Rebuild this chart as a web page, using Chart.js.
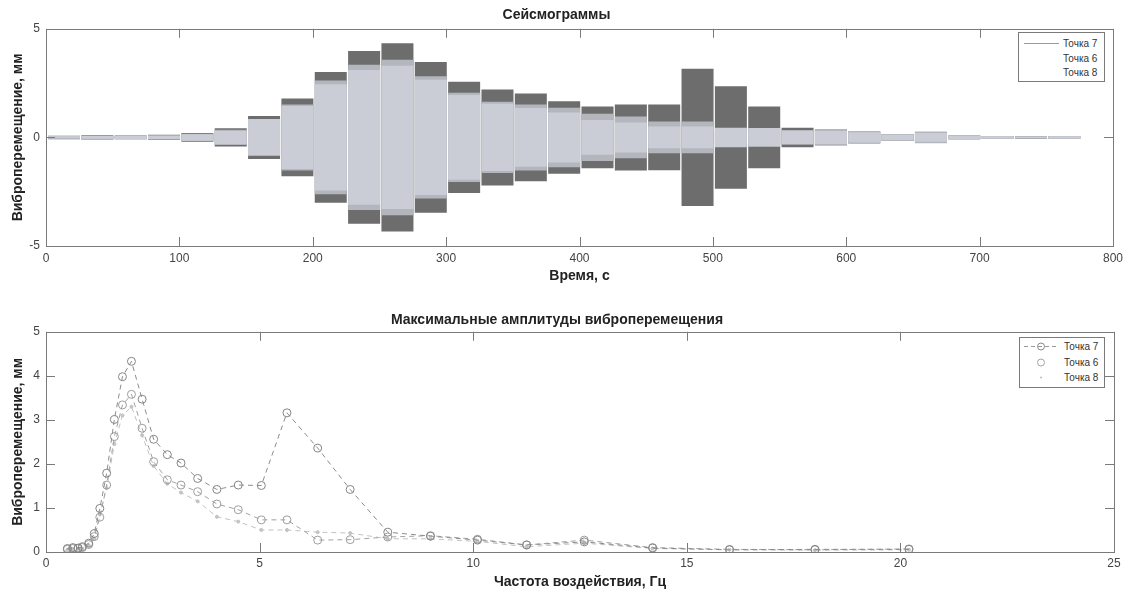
<!DOCTYPE html>
<html lang="ru">
<head>
<meta charset="utf-8">
<title>Сейсмограммы</title>
<script src="https://cdn.jsdelivr.net/npm/chart.js@4.4.1/dist/chart.umd.min.js"></script>
<style>
    html, body { margin: 0; padding: 0; background: #fff; }
    body { width: 1134px; height: 594px; position: relative; overflow: hidden; font-family: 'Liberation Sans', Arial, sans-serif; }
    .panel { position: absolute; left: 0; width: 1134px; height: 297px; }
    #topPanel { top: 0; }
    #bottomPanel { top: 297px; }
    .legend { position: absolute; border: 1px solid #7a7a7a; background: #fff; font-size: 10px; color: #333; }
    .legend .row { position: absolute; left: 0; right: 0; height: 15px; line-height: 15px; }
    .legend svg { position: absolute; left: 0; top: 0; }
    .legend span { position: absolute; left: 44px; }
</style>
</head>
<body>
<div class="panel" id="topPanel"><canvas id="seismo" width="1134" height="297"></canvas></div>
<div class="panel" id="bottomPanel"><canvas id="amplitudes" width="1134" height="297"></canvas></div>

<div class="legend" style="left:1018px; top:32px; width:85px; height:48px;">
    <div class="row" style="top:3px;"><svg width="40" height="15"><line x1="5" y1="7.5" x2="40" y2="7.5" stroke="#9a9a9a" stroke-width="1"/></svg><span>Точка 7</span></div>
    <div class="row" style="top:18px;"><span>Точка 6</span></div>
    <div class="row" style="top:32px;"><span>Точка 8</span></div>
</div>

<div class="legend" style="left:1019px; top:337px; width:84px; height:49px;">
    <div class="row" style="top:1px;"><svg width="40" height="15"><line x1="4" y1="7.5" x2="38" y2="7.5" stroke="#9a9a9a" stroke-dasharray="4,3"/><circle cx="21" cy="7.5" r="3.5" fill="none" stroke="#8a8a8a"/></svg><span>Точка 7</span></div>
    <div class="row" style="top:17px;"><svg width="40" height="15"><circle cx="21" cy="7.5" r="3.5" fill="none" stroke="#a5a5a5"/></svg><span>Точка 6</span></div>
    <div class="row" style="top:32px;"><svg width="40" height="15"><circle cx="21" cy="7.5" r="1" fill="#bdbdbd"/></svg><span>Точка 8</span></div>
</div>

<script>
// частоты воздействия по ступеням, Гц
const freqHz = [0.5, 0.63, 0.75, 0.85, 1.0, 1.13, 1.26, 1.42, 1.6, 1.79, 2.0, 2.25, 2.52, 2.84, 3.16, 3.55,
    4.0, 4.5, 5.04, 5.64, 6.36, 7.12, 8.0, 9.0, 10.1, 11.25, 12.6, 14.2, 16.0, 18.0, 20.2];
// начало каждой ступени на сейсмограмме, с
const stepStart = [1, 26, 51, 76, 101, 126, 151, 176, 201, 226, 251, 276, 301, 326, 351, 376,
    401, 426, 451, 476, 501, 526, 551, 576, 601, 626, 651, 676, 701, 726, 751];
const stepLength = 25;

// максимальные амплитуды, мм
const ampPoint7 = [0.08, 0.1, 0.09, 0.12, 0.2, 0.42, 0.99, 1.79, 3.01, 3.98, 4.33, 3.47, 2.56, 2.21, 2.02, 1.67,
    1.42, 1.52, 1.51, 3.16, 2.36, 1.42, 0.45, 0.36, 0.27, 0.16, 0.23, 0.09, 0.05, 0.06, 0.06];
const ampPoint6 = [0.06, 0.08, 0.08, 0.1, 0.17, 0.35, 0.79, 1.52, 2.62, 3.34, 3.58, 2.81, 2.05, 1.64, 1.52, 1.37,
    1.09, 0.96, 0.73, 0.73, 0.27, 0.28, 0.34, 0.37, 0.29, 0.16, 0.27, 0.1, 0.06, 0.05, 0.07];
const ampPoint8 = [0.05, 0.06, 0.07, 0.08, 0.15, 0.3, 0.85, 1.45, 2.45, 3.1, 3.3, 2.65, 1.95, 1.55, 1.35, 1.15,
    0.8, 0.69, 0.5, 0.5, 0.45, 0.43, 0.3, 0.3, 0.24, 0.12, 0.2, 0.08, 0.05, 0.04, 0.05];

const timeTicks = [0, 800, 100];
const dispTicksTop = [-5, 5, 5];
const freqTicks = [0, 25, 5];
const dispTicksBottom = [0, 5, 1];

Chart.defaults.font.family = "'Liberation Sans', Arial, sans-serif";
Chart.defaults.color = '#444';

// рамка и внутренние риски как в MATLAB
const matlabFrame = {
    id: 'matlabFrame',
    afterDraw(chart) {
        const { ctx, chartArea: area, scales } = chart;
        const len = 9;
        ctx.save();
        ctx.strokeStyle = '#7a7a7a';
        ctx.lineWidth = 1;
        ctx.beginPath();
        scales.x.ticks.forEach(t => {
            const px = Math.round(scales.x.getPixelForValue(t.value)) + 0.5;
            ctx.moveTo(px, area.bottom); ctx.lineTo(px, area.bottom - len);
            ctx.moveTo(px, area.top); ctx.lineTo(px, area.top + len);
        });
        scales.y.ticks.forEach(t => {
            const py = Math.round(scales.y.getPixelForValue(t.value)) + 0.5;
            ctx.moveTo(area.left, py); ctx.lineTo(area.left + len, py);
            ctx.moveTo(area.right, py); ctx.lineTo(area.right - len, py);
        });
        ctx.stroke();
        ctx.strokeRect(Math.round(area.left) + 0.5, Math.round(area.top) + 0.5,
            Math.round(area.right - area.left), Math.round(area.bottom - area.top));
        ctx.restore();
    }
};

const boldTitle = { size: 14, weight: 'bold' };
const tickFont = { size: 12 };

function axis(ticksDef, extra) {
    return Object.assign({
        type: 'linear',
        min: ticksDef[0],
        max: ticksDef[1],
        offset: false,
        grid: { display: false, drawTicks: false, offset: false },
        border: { display: false },
        ticks: { stepSize: ticksDef[2], font: tickFont, color: '#444' },
    }, extra);
}

function envelope(amps) {
    return stepStart.map((t, i) => ({ x: t + stepLength / 2, y: [-amps[i], amps[i]] }));
}

// Сейсмограммы
new Chart(document.getElementById('seismo'), {
    type: 'bar',
    data: {
        datasets: [
            { label: 'Точка 7', data: envelope(ampPoint7), backgroundColor: '#6d6d6d', order: 3 },
            { label: 'Точка 6', data: envelope(ampPoint6), backgroundColor: '#b3b6bd', order: 2 },
            { label: 'Точка 8', data: envelope(ampPoint8), backgroundColor: '#cacdd5', order: 1 },
        ],
    },
    options: {
        responsive: false,
        animation: false,
        devicePixelRatio: 1,
        datasets: { bar: { grouped: false, categoryPercentage: 1, barPercentage: 0.96, borderWidth: 0 } },
        layout: { padding: { left: 0, right: 21, top: 0, bottom: 0 } },
        plugins: {
            legend: { display: false },
            tooltip: { enabled: false },
            title: {
                display: true, text: 'Сейсмограммы', color: '#222', font: boldTitle,
                padding: { top: 7, bottom: 5 },
            },
        },
        scales: {
            x: axis(timeTicks, {
                ticks: { stepSize: 100, font: tickFont, color: '#444', padding: 5, maxRotation: 0 },
                title: { display: true, text: 'Время, с', color: '#222', font: boldTitle, padding: { top: 0, bottom: 12 } },
                afterFit: s => { s.height = 51; },
            }),
            y: axis(dispTicksTop, {
                ticks: { stepSize: 5, font: tickFont, color: '#444', padding: 6 },
                title: { display: true, text: 'Виброперемещение, мм', color: '#222', font: boldTitle, padding: { top: 10, bottom: 0 } },
                afterFit: s => { s.width = 46; },
            }),
        },
    },
    plugins: [matlabFrame],
});

// Максимальные амплитуды
function curve(amps) {
    return freqHz.map((f, i) => ({ x: f, y: amps[i] }));
}

new Chart(document.getElementById('amplitudes'), {
    type: 'scatter',
    data: {
        datasets: [
            {
                label: 'Точка 7', data: curve(ampPoint7), showLine: true,
                borderColor: '#8c8c8c', borderWidth: 1, borderDash: [5, 4],
                pointRadius: 4, pointBorderColor: '#858585', pointBackgroundColor: 'rgba(255,255,255,0)', pointBorderWidth: 1,
            },
            {
                label: 'Точка 6', data: curve(ampPoint6), showLine: true,
                borderColor: '#a2a2a2', borderWidth: 1, borderDash: [5, 4],
                pointRadius: 4, pointBorderColor: '#9d9d9d', pointBackgroundColor: 'rgba(255,255,255,0)', pointBorderWidth: 1,
            },
            {
                label: 'Точка 8', data: curve(ampPoint8), showLine: true,
                borderColor: '#c2c2c2', borderWidth: 1, borderDash: [5, 4],
                pointRadius: 1.5, pointBorderColor: '#bdbdbd', pointBackgroundColor: '#c8c8c8', pointBorderWidth: 1,
            },
        ],
    },
    options: {
        responsive: false,
        animation: false,
        devicePixelRatio: 1,
        layout: { padding: { left: 0, right: 20, top: 0, bottom: 0 } },
        plugins: {
            legend: { display: false },
            tooltip: { enabled: false },
            title: {
                display: true, text: 'Максимальные амплитуды виброперемещения', color: '#222', font: boldTitle,
                padding: { top: 15, bottom: 3 },
            },
        },
        scales: {
            x: axis(freqTicks, {
                ticks: { stepSize: 5, font: tickFont, color: '#444', padding: 4, maxRotation: 0 },
                title: { display: true, text: 'Частота воздействия, Гц', color: '#222', font: boldTitle, padding: { top: 0, bottom: 3 } },
                afterFit: s => { s.height = 42; },
            }),
            y: axis(dispTicksBottom, {
                ticks: { stepSize: 1, font: tickFont, color: '#444', padding: 6 },
                title: { display: true, text: 'Виброперемещение, мм', color: '#222', font: boldTitle, padding: { top: 10, bottom: 0 } },
                afterFit: s => { s.width = 46; },
            }),
        },
    },
    plugins: [matlabFrame],
});
</script>
</body>
</html>
